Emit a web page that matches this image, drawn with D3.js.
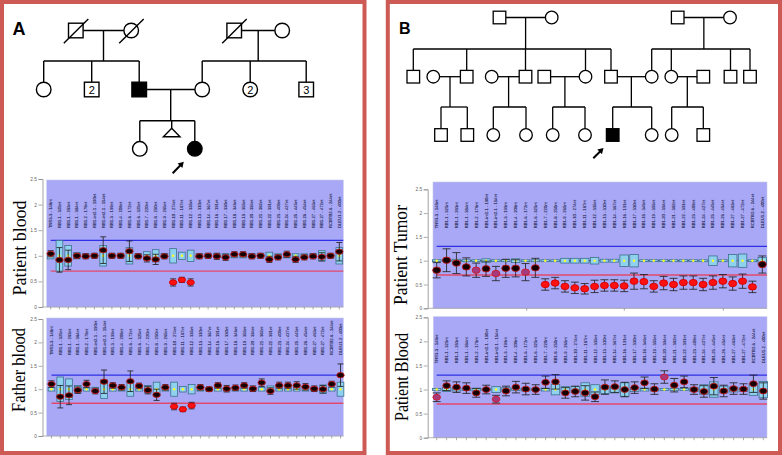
<!DOCTYPE html>
<html><head><meta charset="utf-8">
<script src="https://cdn.jsdelivr.net/npm/d3@7"></script>
<style>body{margin:0;background:#fff;} svg{display:block;}</style>
</head><body>
<svg id="c" width="782" height="455"></svg>
<script>
// ---------- DATA ----------
const probes = ["TNS3-3 - 148nt","RB1-1 - 325nt","RB1-1 - 283nt","RB1-1 - 384nt","RB1-2 - 178nt","RB1-int2-1 - 190nt","RB1-int2-1 - 154nt","RB1-3 - 199nt","RB1-4 - 208nt","RB1-6 - 172nt","RB1-6 - 325nt","RB1-7 - 220nt","RB1-8 - 250nt","RB1-9 - 265nt","RB1-10 - 274nt","RB1-11 - 187nt","RB1-12 - 335nt","RB1-13 - 310nt","RB1-14 - 367nt","RB1-16 - 191nt","RB1-17 - 330nt","RB1-18 - 346nt","RB1-19 - 355nt","RB1-20 - 394nt","RB1-21 - 382nt","RB1-22 - 391nt","RB1-23 - 409nt","RB1-24 - 427nt","RB1-25 - 445nt","RB1-26 - 454nt","RB1-27 - 463nt","RB1-27 - 472nt","RCBTB2-6 - 244nt","DLEU1-2 - 400nt"];
const yTicks = [0, 0.5, 1, 1.5, 2, 2.5];
const refValue = 1.0, upperLimit = 1.3, lowerLimit = 0.7;

// Panel A – patient blood
const aPatientRatio = [1.04,0.92,0.92,1.0,0.99,1.0,1.11,1.0,1.0,1.09,0.99,0.95,0.93,0.99,0.48,0.53,0.48,0.99,1.0,0.99,0.97,1.03,1.03,0.99,1.0,0.93,0.97,1.03,0.93,0.97,0.99,0.98,1.0,1.08];
const aPatientErr = [0.06,0.24,0.19,0.05,0.05,0.05,0.26,0.05,0.05,0.2,0.05,0.07,0.1,0.05,0.07,0.05,0.07,0.05,0.05,0.06,0.06,0.05,0.05,0.05,0.05,0.06,0.05,0.06,0.06,0.05,0.05,0.08,0.05,0.18];
const aPatientRefSD = [0.06,0.3,0.2,0.06,0.04,0.04,0.2,0.04,0.04,0.16,0.04,0.08,0.12,0.04,0.14,0.07,0.11,0.04,0.04,0.04,0.04,0.04,0.04,0.04,0.04,0.07,0.04,0.04,0.04,0.04,0.04,0.1,0.04,0.16];
const aPatientCall = ["n","n","n","n","n","n","n","n","n","n","n","n","n","n","d","d","d","n","n","n","n","n","n","n","n","n","n","n","n","n","n","n","n","n"];

// Panel A – father blood
const aFatherRatio = [1.11,0.84,0.87,0.98,1.11,0.96,1.16,1.08,1.04,1.17,1.07,0.98,0.88,1.04,0.63,0.57,0.65,1.04,1.0,1.08,1.01,1.03,1.08,1.01,1.14,0.96,1.08,1.08,1.08,1.05,1.01,1.0,1.11,1.30];
const aFatherErr = [0.07,0.24,0.2,0.07,0.08,0.06,0.25,0.06,0.06,0.22,0.06,0.08,0.12,0.06,0.07,0.05,0.07,0.06,0.05,0.06,0.07,0.06,0.06,0.06,0.08,0.07,0.07,0.07,0.08,0.07,0.06,0.08,0.06,0.24];
const aFatherRefSD = [0.04,0.26,0.22,0.08,0.04,0.04,0.2,0.04,0.04,0.15,0.04,0.08,0.15,0.04,0.15,0.06,0.1,0.04,0.04,0.04,0.04,0.04,0.04,0.04,0.04,0.07,0.04,0.04,0.04,0.04,0.04,0.09,0.04,0.15];
const aFatherCall = ["n","n","n","n","n","n","n","n","n","n","n","n","n","n","d","d","d","n","n","n","n","n","n","n","n","n","n","n","n","n","n","n","n","n"];

// Panel B – patient tumor
const bTumorRatio = [0.80,1.01,0.95,0.87,0.80,0.83,0.73,0.84,0.84,0.76,0.85,0.50,0.53,0.46,0.43,0.41,0.46,0.48,0.48,0.47,0.57,0.56,0.46,0.53,0.50,0.54,0.54,0.50,0.54,0.57,0.52,0.57,0.45,0.92];
const bTumorErr = [0.16,0.24,0.22,0.19,0.15,0.16,0.15,0.19,0.18,0.18,0.2,0.12,0.12,0.12,0.12,0.11,0.13,0.12,0.12,0.12,0.17,0.15,0.12,0.14,0.13,0.14,0.14,0.13,0.14,0.14,0.14,0.15,0.12,0.18];
const bTumorRefSD = [0.02,0.02,0.03,0.02,0.02,0.04,0.02,0.02,0.04,0.02,0.02,0.02,0.02,0.05,0.05,0.05,0.07,0.03,0.03,0.12,0.13,0.02,0.02,0.02,0.02,0.02,0.02,0.02,0.1,0.02,0.13,0.14,0.02,0.07];
const bTumorCall = ["n","n","n","n","b","n","b","n","n","b","n","d","d","d","d","d","d","d","d","d","d","d","d","d","d","d","d","d","d","d","d","d","d","n"];

// Panel B – patient blood
const bBloodRatio = [0.84,1.08,1.05,1.03,0.93,1.0,0.80,0.97,1.05,1.01,1.0,1.15,1.16,0.93,0.96,0.93,0.85,1.05,1.06,1.0,1.04,1.14,1.01,1.26,1.09,1.16,1.0,0.96,1.07,0.97,1.02,1.01,1.12,0.97];
const bBloodErr = [0.09,0.1,0.11,0.11,0.09,0.09,0.08,0.1,0.12,0.12,0.1,0.13,0.15,0.11,0.11,0.15,0.1,0.15,0.12,0.15,0.12,0.12,0.11,0.13,0.14,0.12,0.1,0.12,0.18,0.12,0.12,0.11,0.18,0.17];
const bBloodRefSD = [0.02,0.04,0.03,0.02,0.03,0.02,0.06,0.04,0.02,0.03,0.02,0.03,0.11,0.06,0.06,0.14,0.1,0.08,0.07,0.14,0.04,0.03,0.03,0.02,0.02,0.02,0.04,0.1,0.16,0.07,0.05,0.04,0.12,0.17];
const bBloodCall = ["b","n","n","n","n","n","b","n","n","n","n","n","n","n","n","n","n","n","n","n","n","n","n","b","n","n","n","n","n","n","n","n","n","n"];

// Pedigrees (positions in diagram units)
const pedA = {
  genY: [30.5, 89.5, 148.8], size: 14.6, lw: 1.4,
  nodes: [
    {id:"a1",sex:"m",x:75.8,gen:0,dead:true},{id:"a2",sex:"f",x:131.2,gen:0,dead:true},
    {id:"a3",sex:"m",x:234.2,gen:0,dead:true},{id:"a4",sex:"f",x:282.2,gen:0},
    {id:"b1",sex:"f",x:43.7,gen:1},{id:"b2",sex:"m",x:91.7,gen:1,num:"2"},{id:"b3",sex:"m",x:139.2,gen:1,aff:true},
    {id:"b4",sex:"f",x:202.2,gen:1},{id:"b5",sex:"f",x:250.2,gen:1,num:"2"},{id:"b6",sex:"m",x:306.2,gen:1,num:"3"},
    {id:"c1",sex:"f",x:139.8,gen:2},{id:"c2",sex:"t",x:171.7,gen:2},{id:"c3",sex:"f",x:194.8,gen:2,aff:true}
  ],
  fams: [
    {p:["a1","a2"],c:["b1","b2","b3"],sy:61},
    {p:["a3","a4"],c:["b4","b5","b6"],sy:61},
    {p:["b3","b4"],c:["c1","c2","c3"],sy:120.7}
  ],
  arrow: [[172.7,173.3],[183.8,161.8]]
};
const pedB = {
  genY: [17.5, 76.7, 135], size: 12.6, lw: 1.3,
  nodes: [
    {id:"g1",sex:"m",x:499.5,gen:0},{id:"g2",sex:"f",x:551.7,gen:0},{id:"g3",sex:"m",x:677.7,gen:0},{id:"g4",sex:"f",x:730,gen:0},
    {id:"h1",sex:"m",x:413.3,gen:1},{id:"h2",sex:"f",x:433.3,gen:1},{id:"h3",sex:"m",x:466.7,gen:1},{id:"h4",sex:"f",x:491.7,gen:1},
    {id:"h5",sex:"m",x:525.5,gen:1},{id:"h6",sex:"m",x:544.3,gen:1},{id:"h7",sex:"f",x:585.5,gen:1},{id:"h8",sex:"m",x:611,gen:1},
    {id:"h9",sex:"f",x:651.7,gen:1},{id:"h10",sex:"f",x:671.3,gen:1},{id:"h11",sex:"m",x:703.3,gen:1},{id:"h12",sex:"m",x:730.5,gen:1},{id:"h13",sex:"m",x:750,gen:1},
    {id:"i1",sex:"m",x:441,gen:2},{id:"i2",sex:"m",x:467.3,gen:2},{id:"i3",sex:"f",x:493.3,gen:2},{id:"i4",sex:"f",x:526,gen:2},
    {id:"i5",sex:"f",x:552.7,gen:2},{id:"i6",sex:"f",x:585,gen:2},{id:"i7",sex:"m",x:612.7,gen:2,aff:true},{id:"i8",sex:"f",x:651.7,gen:2},
    {id:"i9",sex:"f",x:671.7,gen:2},{id:"i10",sex:"m",x:703.3,gen:2}
  ],
  fams: [
    {p:["g1","g2"],c:["h1","h3","h5","h7","h8"],sy:49},
    {p:["g3","g4"],c:["h9","h10","h12","h13"],sy:49},
    {p:["h2","h3"],c:["i1","i2"],sy:107},
    {p:["h4","h5"],c:["i3","i4"],sy:107},
    {p:["h6","h7"],c:["i5","i6"],sy:107},
    {p:["h8","h9"],c:["i7","i8"],sy:107},
    {p:["h10","h11"],c:["i9","i10"],sy:107}
  ],
  arrow: [[593.3,158.3],[603.5,148]]
};

// ---------- DRAW ----------
const svg = d3.select("#c");
const unit = d3.scaleLinear().domain([0,1]).range([0,1]); // diagram units -> px

function drawPed(P){
  const g = svg.append("g").attr("stroke","#000").attr("stroke-width",P.lw).attr("fill","none");
  const byId = {}; P.nodes.forEach(n=>byId[n.id]=n);
  const s = P.size, h = s/2;
  const X = n=>unit(n.x), Y = n=>unit(P.genY[n.gen]);
  const topOf = n=> n.sex==="t" ? Y(n)-20.5 : Y(n)-h;
  P.fams.forEach(f=>{
    const a = byId[f.p[0]], b = byId[f.p[1]];
    const x1 = X(a)+h, x2 = X(b)-h, yy = Y(a);
    g.append("line").attr("x1",x1).attr("x2",x2).attr("y1",yy).attr("y2",yy);
    const mx = (x1+x2)/2;
    g.append("line").attr("x1",mx).attr("x2",mx).attr("y1",yy).attr("y2",unit(f.sy));
    const xs = f.c.map(id=>X(byId[id])).concat([mx]);
    g.append("line").attr("x1",d3.min(xs)).attr("x2",d3.max(xs)).attr("y1",unit(f.sy)).attr("y2",unit(f.sy));
    f.c.forEach(id=>{const c=byId[id];
      g.append("line").attr("x1",X(c)).attr("x2",X(c)).attr("y1",unit(f.sy)).attr("y2",topOf(c));});
  });
  P.nodes.forEach(n=>{
    const fill = n.aff ? "#000" : "#fff";
    if(n.sex==="m") g.append("rect").attr("x",X(n)-h).attr("y",Y(n)-h).attr("width",s).attr("height",s).attr("fill",fill);
    else if(n.sex==="f") g.append("circle").attr("cx",X(n)).attr("cy",Y(n)).attr("r",h).attr("fill",fill);
    else { const ty=topOf(n);
      g.append("path").attr("d",`M${X(n)},${ty}L${X(n)+8.3},${ty+8.4}L${X(n)-8.3},${ty+8.4}Z`).attr("fill","#fff"); }
    if(n.dead) g.append("line").attr("x1",X(n)-12).attr("y1",Y(n)+12.8).attr("x2",X(n)+12.5).attr("y2",Y(n)-11.5);
    if(n.num) svg.append("text").attr("x",X(n)).attr("y",Y(n)+4).attr("text-anchor","middle")
      .attr("font-family","Liberation Sans, Arial, sans-serif").attr("font-size",11).attr("fill","#000").text(n.num);
  });
  const [p0,p1] = P.arrow;
  const dx=p1[0]-p0[0], dy=p1[1]-p0[1], L=Math.hypot(dx,dy), ux=dx/L, uy=dy/L;
  const bx=p1[0]-ux*5.5, by=p1[1]-uy*5.5;
  g.append("line").attr("x1",p0[0]).attr("y1",p0[1]).attr("x2",bx+ux).attr("y2",by+uy).attr("stroke-width",2);
  g.append("path").attr("d",`M${p1[0]},${p1[1]}L${bx-uy*3.3},${by+ux*3.3}L${bx+uy*3.3},${by-ux*3.3}Z`).attr("fill","#000").attr("stroke","none");
}

function drawChart(o){
  const g = svg.append("g");
  const x = d3.scalePoint().domain(probes).range([o.x0,o.x1]);
  const y = d3.scaleLinear().domain([0,2.5]).range([o.yZero,o.yTop]);
  g.append("rect").attr("x",o.px0).attr("y",o.py0).attr("width",o.px1-o.px0).attr("height",y(0)-o.py0)
    .attr("fill","#a8a8f6").attr("stroke","#c8c8ee").attr("stroke-width",0.6);
  // y axis
  const ax = g.append("g").attr("transform",`translate(${o.axisX},0)`)
    .call(d3.axisLeft(y).tickValues(yTicks).tickFormat(d3.format("")).tickSize(4).tickPadding(1.5));
  ax.select(".domain").attr("stroke","#8a8a8a").attr("stroke-width",0.8);
  ax.selectAll(".tick line").attr("stroke","#8a8a8a").attr("stroke-width",0.7);
  ax.selectAll(".tick text").attr("font-size",4.8).attr("fill","#666").attr("font-family","Liberation Sans, Arial, sans-serif");
  // x axis
  g.append("line").attr("x1",o.axisX).attr("x2",o.px1).attr("y1",y(0)).attr("y2",y(0)).attr("stroke","#9a9a9a").attr("stroke-width",0.7);
  const xt = o.fewTicks ? o.fewTicks : probes.map(p=>x(p));
  g.selectAll(null).data(xt).join("line").attr("x1",d=>d).attr("x2",d=>d).attr("y1",y(0)).attr("y2",y(0)+2.5)
    .attr("stroke","#777").attr("stroke-width",0.6);
  // probe labels
  g.selectAll(null).data(probes).join("text")
    .attr("transform",d=>`translate(${x(d)+1.5},${o.labelBottom}) rotate(-90)`)
    .attr("font-size",4.2).attr("fill","#2c2c58").attr("stroke","#2c2c58").attr("stroke-width",0.12)
    .attr("font-family","Liberation Sans, Arial, sans-serif").text(d=>d);
  // limits
  g.append("line").attr("x1",o.x0).attr("x2",o.px1).attr("y1",y(upperLimit)).attr("y2",y(upperLimit))
    .attr("stroke","#2f2fe8").attr("stroke-width",1.3);
  g.append("line").attr("x1",o.x0).attr("x2",o.px1).attr("y1",y(lowerLimit)).attr("y2",y(lowerLimit))
    .attr("stroke","#e2486a").attr("stroke-width",1.3);
  if(o.dashed) g.append("line").attr("x1",o.px0).attr("x2",o.px1).attr("y1",y(refValue)).attr("y2",y(refValue))
    .attr("stroke","#2a2a40").attr("stroke-width",1).attr("stroke-dasharray","3,2.2");
  const idx = d3.range(probes.length);
  // reference boxes
  g.selectAll(null).data(idx).join("rect")
    .attr("x",i=>x(probes[i])-o.boxW/2).attr("width",o.boxW)
    .attr("y",i=>y(refValue+o.sd[i])).attr("height",i=>y(refValue-o.sd[i])-y(refValue+o.sd[i]))
    .attr("fill","#8fd2f0").attr("stroke","#3f6f8c").attr("stroke-width",0.8);
  g.selectAll(null).data(idx).join("circle")
    .attr("cx",i=>x(probes[i])).attr("cy",y(refValue)).attr("r",1.2).attr("fill","#ffff20");
  // error bars
  const eb = g.selectAll(null).data(idx).join("g").attr("stroke","#1a1a1a").attr("stroke-width",0.8);
  eb.append("line").attr("x1",i=>x(probes[i])).attr("x2",i=>x(probes[i]))
    .attr("y1",i=>y(o.v[i]+o.err[i])).attr("y2",i=>y(o.v[i]-o.err[i]));
  eb.append("line").attr("x1",i=>x(probes[i])-o.cap).attr("x2",i=>x(probes[i])+o.cap)
    .attr("y1",i=>y(o.v[i]+o.err[i])).attr("y2",i=>y(o.v[i]+o.err[i]));
  eb.append("line").attr("x1",i=>x(probes[i])-o.cap).attr("x2",i=>x(probes[i])+o.cap)
    .attr("y1",i=>y(o.v[i]-o.err[i])).attr("y2",i=>y(o.v[i]-o.err[i]));
  // points
  const fillOf = {n:"#140000", d:"#ff1010", b:"#a63a7c"};
  const strokeOf = {n:"#c01818", d:"#d00000", b:"#d01828"};
  g.selectAll(null).data(idx).join("ellipse")
    .attr("cx",i=>x(probes[i])).attr("cy",i=>y(o.v[i])).attr("rx",o.rx).attr("ry",o.ry)
    .attr("fill",i=>fillOf[o.call[i]]).attr("stroke",i=>strokeOf[o.call[i]]).attr("stroke-width",0.9);
  // title
  g.append("text").attr("transform",`translate(${o.tx},${o.ty}) rotate(-90)`).attr("text-anchor","middle")
    .attr("font-family","Liberation Serif, Times New Roman, serif").attr("font-size",19).attr("fill","#000")
    .attr("textLength",o.tlen).attr("lengthAdjust","spacingAndGlyphs").text(o.title);
}

// panel frames
svg.append("rect").attr("x",2).attr("y",2).attr("width",362.5).attr("height",451).attr("fill","none").attr("stroke","#cd5a55").attr("stroke-width",4);
svg.append("rect").attr("x",387.8).attr("y",2).attr("width",392.2).attr("height",451).attr("fill","none").attr("stroke","#cd5a55").attr("stroke-width",4);
svg.append("text").attr("x",12.5).attr("y",35).attr("font-family","Liberation Sans, Arial, sans-serif").attr("font-weight","bold").attr("font-size",18).text("A");
svg.append("text").attr("x",399).attr("y",34).attr("font-family","Liberation Sans, Arial, sans-serif").attr("font-weight","bold").attr("font-size",16).text("B");

drawPed(pedA);
drawPed(pedB);

drawChart({title:"Patient blood",tx:25.5,ty:248,tlen:95,axisX:42.5,px0:46.7,px1:343.3,py0:180,yZero:307,yTop:179,
  x0:50.7,x1:339.3,labelBottom:228,v:aPatientRatio,err:aPatientErr,sd:aPatientRefSD,call:aPatientCall,boxW:6.7,cap:3,rx:3.7,ry:2.6});
drawChart({title:"Father blood",tx:25,ty:370,tlen:84,axisX:42.5,px0:46.7,px1:343.3,py0:318,yZero:436,yTop:319,
  x0:51.5,x1:340.5,labelBottom:355,v:aFatherRatio,err:aFatherErr,sd:aFatherRefSD,call:aFatherCall,boxW:6.7,cap:3,rx:3.7,ry:2.6});
drawChart({title:"Patient Tumor",tx:406.5,ty:255,tlen:100,axisX:427.7,px0:433,px1:767,py0:182,yZero:308.3,yTop:189.3,
  x0:436.7,x1:762.3,labelBottom:228.3,v:bTumorRatio,err:bTumorErr,sd:bTumorRefSD,call:bTumorCall,boxW:8.5,cap:4,rx:4,ry:3.2,
  dashed:true,fewTicks:[526.7,624.3,723.3]});
drawChart({title:"Patient Blood",tx:407.5,ty:377,tlen:88,axisX:427.7,px0:433.3,px1:767,py0:316.7,yZero:437.7,yTop:317.3,
  x0:436.7,x1:763.3,labelBottom:363.3,v:bBloodRatio,err:bBloodErr,sd:bBloodRefSD,call:bBloodCall,boxW:8.5,cap:4,rx:3.8,ry:2.9});
</script>
</body></html>
